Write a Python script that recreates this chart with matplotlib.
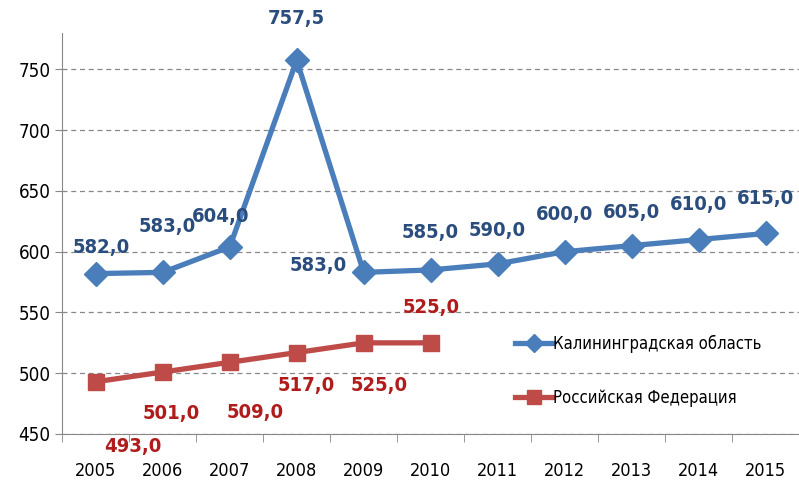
import matplotlib
matplotlib.use('Agg')
import matplotlib.pyplot as plt

plt.rcParams['font.family'] = ['DejaVu Sans']
plt.rcParams['font.stretch'] = 'condensed'

# data
years = ['2005', '2006', '2007', '2008', '2009', '2010', '2011', '2012', '2013', '2014', '2015']
kaliningrad = [582.0, 583.0, 604.0, 757.5, 583.0, 585.0, 590.0, 600.0, 605.0, 610.0, 615.0]
russia = [493.0, 501.0, 509.0, 517.0, 525.0, 525.0]
kal_label = 'Калининградская область'
rus_label = 'Российская Федерация'

# label offsets in pixels (dx, dy) relative to each point
kal_off = [(5, 26), (4, 46), (-9, 30), (0, 42), (-45, 7), (0, 37), (0, 33), (0, 37), (0, 33), (0, 35), (0, 35)]
rus_off = [(37, -65), (8, -41), (25, -50), (10, -33), (15, -43), (1, 35)]

fig = plt.figure(figsize=(7.99, 4.82), dpi=100)
ax = fig.add_axes([0.078, 0.0996, 0.922, 0.832])

x = list(range(len(years)))
ax.plot(x, kaliningrad, color='#4A7EBB', lw=3.8, marker='D', ms=12, label=kal_label, zorder=3)
ax.plot(x[:len(russia)], russia, color='#BE4B48', lw=3.8, marker='s', ms=12, label=rus_label, zorder=3)

for i, v in enumerate(kaliningrad):
    ax.annotate(f'{v:.1f}'.replace('.', ','), (i, v), xytext=kal_off[i], textcoords='offset pixels',
                ha='center', va='center', fontsize=14.5, fontweight='bold', color='#2A4D7E',
                annotation_clip=False)
for i, v in enumerate(russia):
    ax.annotate(f'{v:.1f}'.replace('.', ','), (i, v), xytext=rus_off[i], textcoords='offset pixels',
                ha='center', va='center', fontsize=14.5, fontweight='bold', color='#B01C1C',
                annotation_clip=False)

ax.set_xlim(-0.5, 10.5)
ax.set_ylim(450, 780)
ax.set_yticks([450, 500, 550, 600, 650, 700, 750])
ax.set_xticks(x)
ax.set_xticklabels(years)
ax.set_xticks([i + 0.5 for i in range(-1, 11)], minor=True)
ax.tick_params(axis='x', which='major', length=0, pad=20, labelsize=13)
ax.tick_params(axis='x', which='minor', length=6, color='#888888')
ax.tick_params(axis='y', length=5, color='#888888', labelsize=13.5)
ax.yaxis.grid(True, linestyle=(0, (4, 3)), color='#888888', lw=0.9)
ax.set_axisbelow(True)
for s in ['top', 'right']:
    ax.spines[s].set_visible(False)
for s in ['left', 'bottom']:
    ax.spines[s].set_color('#888888')

ax.legend(loc='upper left', bbox_to_anchor=(0.605, 0.265), frameon=False, fontsize=12,
          handlelength=2.3, handletextpad=0.0, labelspacing=2.2, markerscale=0.8,
          borderaxespad=0.0)

fig.savefig('out.png', dpi=100)
